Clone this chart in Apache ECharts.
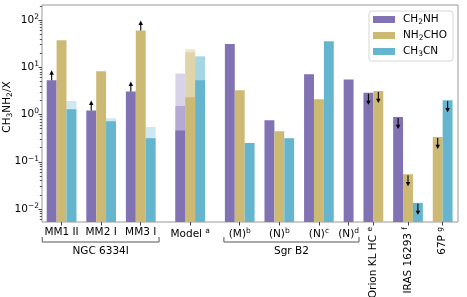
<!DOCTYPE html>
<html><head><meta charset="utf-8">
<script src="https://cdn.jsdelivr.net/npm/echarts@6/dist/echarts.min.js"></script>
<style>html,body{margin:0;padding:0;background:#fff}#c{width:467px;height:297px}</style>
</head><body><div id="c"></div>
<script>
// ---------------- data ----------------
const groups     = ['MM1 II', 'MM2 I', 'MM3 I', 'Model', '(M)', '(N)', '(N)', '(N)', 'Orion KL HC', 'IRAS 16293', '67P'];
const groupNotes = ['', '', '', 'a', 'b', 'b', 'c', 'd', 'e', 'f', 'g'];
const ch2nh  = [5.3, 1.22, 3.07, 0.458, 31.2, 0.757, 7.13, 5.5, 2.87, 0.89, null];
const nh2cho = [37.4, 8.25, 60, 2.32, 3.27, 0.443, 2.11, null, 3.16, 0.0545, 0.336];
const ch3cn  = [1.29, 0.72, 0.315, 5.32, 0.25, 0.315, 35.6, null, null, 0.0135, 2.01];
// faded ranges (upper ends of ranges)
const ch2nhLight  = [null, null, null, 7.38, null, null, null, null, null, null, null];
const ch2nhMid    = [null, null, null, 1.52, null, null, null, null, null, null, null];
const nh2choLight = [null, null, null, 24.1, null, null, null, null, null, null, null];
const nh2choMid   = [null, null, null, 20.8, null, null, null, null, null, null, null];
const ch3cnLight  = [1.94, 0.835, 0.547, 16.9, null, null, null, null, null, null, null];
const ch3cnMid    = [null, null, null, 16.9, null, null, null, null, null, null, null];
// limits: '>' lower limit (arrow up), '<' upper limit (arrow down)
const ch2nhLimit  = ['>', '>', '>', '', '', '', '', '', '<', '<', ''];
const nh2choLimit = ['', '', '>', '', '', '', '', '', '<', '<', '<'];
const ch3cnLimit  = ['', '', '', '', '', '', '', '', '', '<', '<'];
const yTickValues = [0.01, 0.1, 1, 10, 100];
const yMinorTickValues = [0.006, 0.007, 0.008, 0.009, 0.02, 0.03, 0.04, 0.05, 0.06, 0.07, 0.08, 0.09,
  0.2, 0.3, 0.4, 0.5, 0.6, 0.7, 0.8, 0.9, 2, 3, 4, 5, 6, 7, 8, 9, 20, 30, 40, 50, 60, 70, 80, 90, 200];
const seriesNames = ['CH2NH', 'NH2CHO', 'CH3CN'];
const legendLabels = ['CH{sub|2}NH', 'NH{sub|2}CHO', 'CH{sub|3}CN'];
const groupTitles = ['NGC 6334I', 'Sgr B2'];

// ---------------- layout ----------------
const slotStart = [0, 4, 8, 13, 18, 22, 26, 30, 32, 35, 38]; // bar slot of first species per group
const rotatedFrom = 8;
const bracketSpans = [[-0.95, 10.85], [17.4, 31.05]];
const G = {left: 42, right: 9, top: 5, bottom: 75};
const W = 467, H = 297;
const xMin = -0.975, xMax = 41.05;
const yMin = 0.00531, yMax = 207.7;
const barW = (W - G.left - G.right) / (xMax - xMin);
const FONT = 'DejaVu Sans';
const colors = ['#8172b3', '#ccb974', '#64b5cd'];
const lightColors = ['#d8d3e9', '#ede5c9', '#cde8f0'];
const midColors = ['#b3a9d3', '#e0d4aa', '#a6d5e3'];

const mainVals = [ch2nh, nh2cho, ch3cn];
const lightVals = [ch2nhLight, nh2choLight, ch3cnLight];
const midVals = [ch2nhMid, nh2choMid, ch3cnMid];
const limits = [ch2nhLimit, nh2choLimit, ch3cnLimit];

function toData(vals, s) {
  const out = [];
  vals.forEach((v, i) => { if (v != null) out.push([slotStart[i] + s, v]); });
  return out;
}
const labelPos = groups.map((g, i) => {
  const present = [];
  for (let s = 0; s < 3; s++) if (mainVals[s][i] != null || lightVals[s][i] != null) present.push(slotStart[i] + s);
  return present.reduce((a, b) => a + b, 0) / present.length;
});
function labelText(i) {
  if (!groupNotes[i]) return groups[i];
  const sep = groups[i].endsWith(')') ? '' : ' ';
  return groups[i] + sep + '{sup|' + groupNotes[i] + '}';
}
function findGroup(v) { let b = 0, d = 1e9; labelPos.forEach((p, i) => { if (Math.abs(p - v) < d) { d = Math.abs(p - v); b = i; } }); return b; }

const horizPos = labelPos.slice(0, rotatedFrom);
const rotPos = labelPos.slice(rotatedFrom);

const rich = {
  sup: {fontSize: 7.5, fontFamily: FONT, color: '#000', padding: [0, 0, 6, 0]},
  sub: {fontSize: 7.5, fontFamily: FONT, color: '#000', padding: [5, 0, 0, 0]}
};

const series = [];
[lightVals, midVals].forEach((arr, layer) => {
  arr.forEach((vals, s) => {
    series.push({type: 'bar', name: 'layer' + layer + '_' + s, data: toData(vals, s), barWidth: barW, barGap: '-100%',
      itemStyle: {color: (layer === 0 ? lightColors : midColors)[s]}, silent: true, animation: false});
  });
});
mainVals.forEach((vals, s) => {
  series.push({type: 'bar', name: seriesNames[s], data: toData(vals, s), barWidth: barW, barGap: '-100%',
    itemStyle: {color: colors[s]}, animation: false});
});
const upData = [], downData = [];
limits.forEach((lim, s) => lim.forEach((l, i) => {
  if (l === '>') upData.push([slotStart[i] + s, mainVals[s][i]]);
  if (l === '<') downData.push([slotStart[i] + s, mainVals[s][i]]);
}));
series.push({type: 'scatter', name: 'up', data: upData, z: 5, animation: false,
  symbol: 'path://M2.5,0 L5,4.5 L3.1,4.5 L3.1,10 L1.9,10 L1.9,4.5 L0,4.5 Z', symbolSize: [4.5, 10], symbolOffset: [0, -5],
  itemStyle: {color: '#000', opacity: 1}});
series.push({type: 'scatter', name: 'down', data: downData, z: 5, animation: false,
  symbol: 'path://M2.5,12 L5,7.5 L3.1,7.5 L3.1,0 L1.9,0 L1.9,7.5 L0,7.5 Z', symbolSize: [4.5, 11], symbolOffset: [0, 6.5],
  itemStyle: {color: '#000', opacity: 1}});

const chart = echarts.init(document.getElementById('c'), null, {renderer: 'canvas'});
const xCommon = {type: 'value', min: xMin, max: xMax, gridIndex: 0, position: 'bottom', offset: 0,
  axisLine: {show: false, onZero: false}, splitLine: {show: false}};
chart.setOption({
  animation: false,
  textStyle: {fontFamily: FONT},
  grid: {left: G.left, right: G.right, top: G.top, bottom: G.bottom, containLabel: false, outerBoundsMode: 'none',
    show: true, borderColor: '#999', borderWidth: 1, backgroundColor: 'transparent'},
  legend: {
    data: seriesNames, orient: 'vertical', left: 369, top: 11, itemWidth: 22, itemHeight: 7, itemGap: 4,
    padding: [3, 6, 3, 4], borderColor: '#d6d6d6', borderWidth: 1, borderRadius: 3, icon: 'rect',
    formatter: n => legendLabels[seriesNames.indexOf(n)],
    textStyle: {fontSize: 10.5, fontFamily: FONT, color: '#000', padding: [0, 0, 0, 3], rich: rich}
  },
  xAxis: [
    Object.assign({}, xCommon, {
      axisTick: {show: true, length: 3.5, lineStyle: {color: '#444'}, customValues: horizPos},
      axisLabel: {show: true, customValues: horizPos, margin: 5, fontSize: 10.5, color: '#000', fontFamily: FONT, rich: rich,
        hideOverlap: false, formatter: v => labelText(findGroup(v))}
    }),
    Object.assign({}, xCommon, {
      axisTick: {show: true, length: 3.5, lineStyle: {color: '#444'}, customValues: rotPos},
      axisLabel: {show: true, customValues: rotPos, margin: 5, rotate: 90, fontSize: 10.5, color: '#000', fontFamily: FONT, rich: rich,
        hideOverlap: false, formatter: v => labelText(findGroup(v))}
    })
  ],
  yAxis: [
    {type: 'log', logBase: 10, min: yMin, max: yMax, startValue: yMin, gridIndex: 0, position: 'left', offset: 0,
      name: 'CH{sub|3}NH{sub|2}/X', nameLocation: 'middle', nameGap: 28, nameMoveOverlap: false,
      nameTextStyle: {fontSize: 10.5, color: '#000', fontFamily: FONT, padding: [0, 0, 0, 13], rich: rich},
      axisLine: {show: false, onZero: false}, splitLine: {show: false},
      axisTick: {show: true, length: 3.5, lineStyle: {color: '#444'}, customValues: yTickValues},
      axisLabel: {show: true, customValues: yTickValues, margin: 3, fontSize: 10.5, color: '#000', fontFamily: FONT, rich: rich,
        formatter: v => { const e = Math.round(Math.log10(v)); return '10{sup|' + (e < 0 ? '\u2212' + (-e) : e) + '}'; }}
    },
    // minor log ticks, on an exponent-space axis
    {type: 'value', min: Math.log10(yMin), max: Math.log10(yMax), gridIndex: 0, position: 'left', offset: 0,
      axisLine: {show: false, onZero: false}, splitLine: {show: false}, axisLabel: {show: false},
      axisTick: {show: true, length: 2.2, lineStyle: {color: '#444', width: 0.9}, customValues: yMinorTickValues.map(v => Math.log10(v))}
    }
  ],
  series: series
});

const gfx = [];
bracketSpans.forEach((sp, k) => {
  const x1 = chart.convertToPixel({xAxisIndex: 0}, sp[0]);
  const x2 = chart.convertToPixel({xAxisIndex: 0}, sp[1]);
  gfx.push({type: 'polyline', shape: {points: [[x1, 237], [x1, 242], [x2, 242], [x2, 237]]},
    style: {stroke: '#555', lineWidth: 1, fill: null}, silent: true});
  gfx.push({type: 'text', x: (x1 + x2) / 2, y: 246,
    style: {text: groupTitles[k], fontSize: 10.5, fontFamily: FONT, fill: '#000', align: 'center', verticalAlign: 'top'}, silent: true});
});
chart.setOption({graphic: gfx});
</script></body></html>
